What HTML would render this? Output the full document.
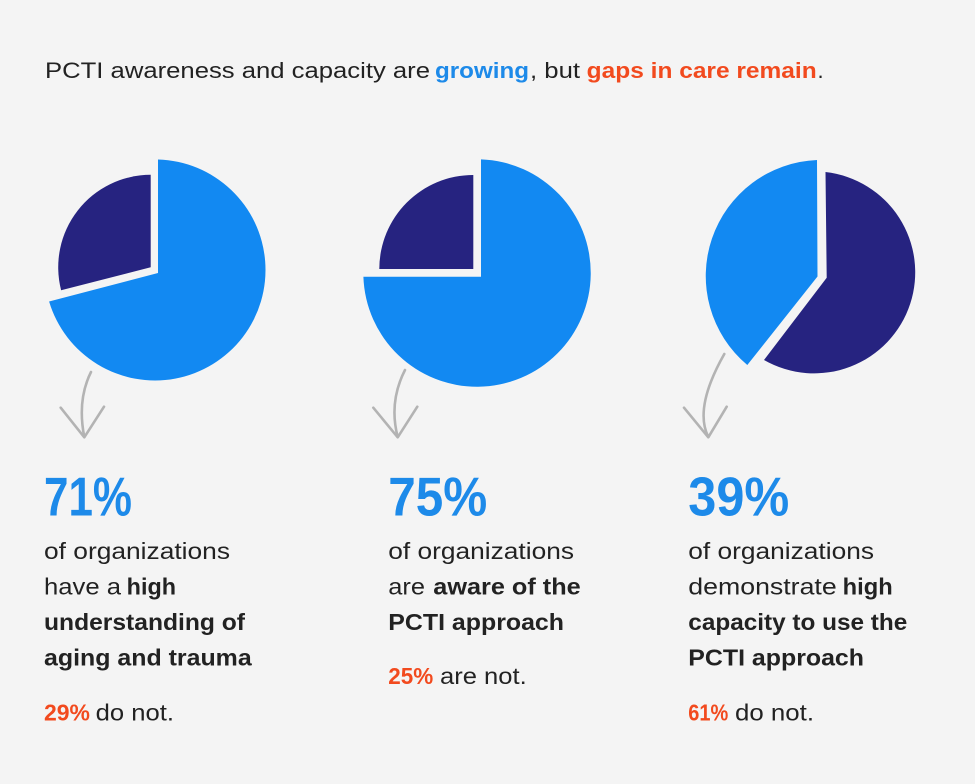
<!DOCTYPE html>
<html>
<head>
<meta charset="utf-8">
<style>
  html,body{margin:0;padding:0;background:#f4f4f4;}
  svg{display:block;}
  text{font-family:"Liberation Sans", Arial, sans-serif;}
  .r{font-weight:400;fill:#222;}
  .b{font-weight:700;fill:#222;}
  .blue{fill:#1d8ae9;font-weight:700;}
  .red{fill:#f24a1e;font-weight:700;}
</style>
</head>
<body>
<svg width="975" height="784" viewBox="0 0 975 784" xmlns="http://www.w3.org/2000/svg">
  <rect x="0" y="0" width="975" height="784" fill="#f4f4f4"/>

  <!-- Title -->
  <g font-size="22">
    <text class="r" x="45" y="78" textLength="385" lengthAdjust="spacingAndGlyphs">PCTI awareness and capacity are</text>
    <text class="blue" x="435" y="78" textLength="94" lengthAdjust="spacingAndGlyphs">growing</text>
    <text class="r" x="530" y="78" textLength="50" lengthAdjust="spacingAndGlyphs">, but</text>
    <text class="red" x="586.7" y="78" textLength="230" lengthAdjust="spacingAndGlyphs">gaps in care remain</text>
    <text class="r" x="817.5" y="78">.</text>
  </g>

  <!-- Pie 1 -->
  <path d="M158,273 L158,159.5 A110.5,110.5 0 1 1 49.1,301.5 Z" fill="#1289f2"/>
  <path d="M150.7,267.3 L61.1,290.2 A92.5,92.5 0 0 1 150.7,174.8 Z" fill="#262380"/>

  <!-- Pie 2 -->
  <path d="M481,276.7 L481,159.4 A113.7,113.7 0 1 1 363.4,276.7 Z" fill="#1289f2"/>
  <path d="M473.3,269 L379.3,269 A94,94 0 0 1 473.3,175 Z" fill="#262380"/>

  <!-- Pie 3 -->
  <path d="M817.5,276.5 L747.3,365 A116.1,116.1 0 0 1 817,160 Z" fill="#1289f2"/>
  <path d="M826.7,277.7 L825.5,172 A101,101 0 1 1 764,360 Z" fill="#262380"/>

  <!-- Arrows -->
  <g fill="none" stroke="#b3b3b3" stroke-width="2.6" stroke-linecap="round" stroke-linejoin="round">
    <path d="M91,372 Q77,400 84.3,437"/>
    <path d="M60.7,407.7 L84.3,437.3 L104,406.7"/>
    <path d="M405,370 Q388.6,402 397.7,437"/>
    <path d="M373.3,407.7 L397.7,437.3 L417.3,406.7"/>
    <path d="M724.3,354 Q693.7,408 708.3,437"/>
    <path d="M684,407.7 L708.3,437.3 L726.7,406.7"/>
  </g>

  <!-- Column 1 -->
  <text class="blue" x="44" y="515.7" font-size="55" textLength="88" lengthAdjust="spacingAndGlyphs">71%</text>
  <g font-size="23">
    <text class="r" x="44" y="559" textLength="186" lengthAdjust="spacingAndGlyphs">of organizations</text>
    <text class="r" x="44" y="594.5" textLength="77" lengthAdjust="spacingAndGlyphs">have a</text>
    <text class="b" x="126.7" y="594.5" textLength="49.3" lengthAdjust="spacingAndGlyphs">high</text>
    <text class="b" x="44" y="630" textLength="201" lengthAdjust="spacingAndGlyphs">understanding of</text>
    <text class="b" x="44" y="665.7" textLength="207.7" lengthAdjust="spacingAndGlyphs">aging and trauma</text>
    <text class="red" x="44" y="720.5" textLength="46" lengthAdjust="spacingAndGlyphs">29%</text>
    <text class="r" x="95.7" y="720.5" textLength="78.3" lengthAdjust="spacingAndGlyphs">do not.</text>
  </g>

  <!-- Column 2 -->
  <text class="blue" x="388.3" y="515.7" font-size="55" textLength="99" lengthAdjust="spacingAndGlyphs">75%</text>
  <g font-size="23">
    <text class="r" x="388.3" y="559" textLength="185.7" lengthAdjust="spacingAndGlyphs">of organizations</text>
    <text class="r" x="388.3" y="594.5" textLength="36.7" lengthAdjust="spacingAndGlyphs">are</text>
    <text class="b" x="433.3" y="594.5" textLength="147.4" lengthAdjust="spacingAndGlyphs">aware of the</text>
    <text class="b" x="388.3" y="630" textLength="175.7" lengthAdjust="spacingAndGlyphs">PCTI approach</text>
    <text class="red" x="388.3" y="684" textLength="45" lengthAdjust="spacingAndGlyphs">25%</text>
    <text class="r" x="440" y="684" textLength="86.7" lengthAdjust="spacingAndGlyphs">are not.</text>
  </g>

  <!-- Column 3 -->
  <text class="blue" x="688.3" y="515.7" font-size="55" textLength="101" lengthAdjust="spacingAndGlyphs">39%</text>
  <g font-size="23">
    <text class="r" x="688.3" y="559" textLength="185.7" lengthAdjust="spacingAndGlyphs">of organizations</text>
    <text class="r" x="688.3" y="594.5" textLength="148.4" lengthAdjust="spacingAndGlyphs">demonstrate</text>
    <text class="b" x="842.7" y="594.5" textLength="50" lengthAdjust="spacingAndGlyphs">high</text>
    <text class="b" x="688.3" y="630" textLength="219" lengthAdjust="spacingAndGlyphs">capacity to use the</text>
    <text class="b" x="688.3" y="665.7" textLength="175.7" lengthAdjust="spacingAndGlyphs">PCTI approach</text>
    <text class="red" x="688.3" y="720.5" textLength="40" lengthAdjust="spacingAndGlyphs">61%</text>
    <text class="r" x="735" y="720.5" textLength="79" lengthAdjust="spacingAndGlyphs">do not.</text>
  </g>
</svg>
</body>
</html>
